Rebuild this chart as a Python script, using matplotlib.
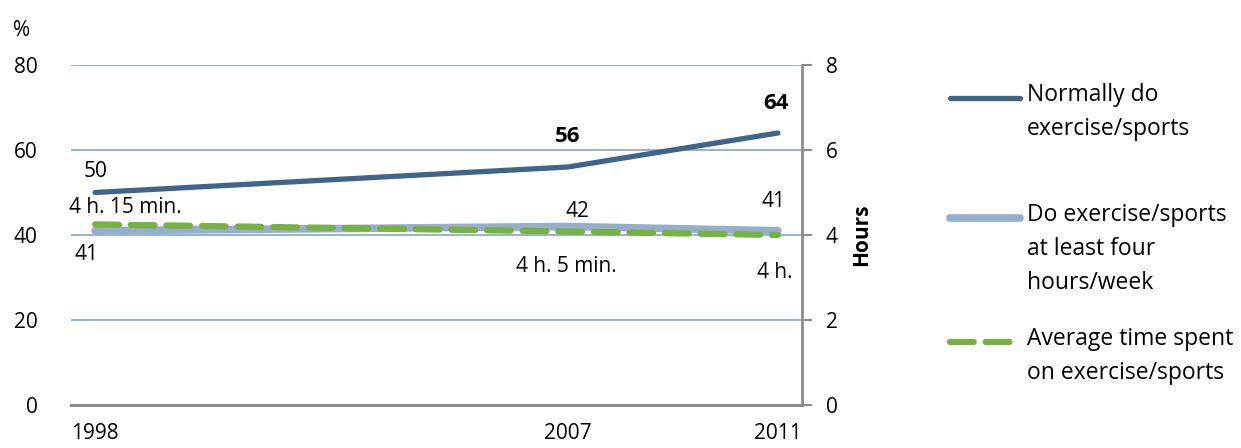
import matplotlib
matplotlib.use("Agg")
import matplotlib.pyplot as plt
from matplotlib.lines import Line2D

plt.rcParams['font.family'] = ['Open Sans', 'DejaVu Sans']

years = [1998, 2007, 2011]
normally = [50, 56, 64]
four_hours = [41, 42, 41]
avg_hours = [4.25, 4 + 5/60, 4.0]
avg_labels = ["4 h. 15 min.", "4 h. 5 min.", "4 h."]
left_ticks = [0, 20, 40, 60, 80]
right_ticks = [0, 2, 4, 6, 8]
legend_labels = ["Normally do\nexercise/sports",
                 "Do exercise/sports\nat least four\nhours/week",
                 "Average time spent\non exercise/sports"]

c_dark = "#41648a"
c_light = "#95aece"
c_green = "#77b140"
c_grid = "#9db3d0"
c_axis = "#8c8c8c"
fs = 15

fig = plt.figure(figsize=(12.41, 4.48), dpi=100)
ax = fig.add_axes([71/1241, 1 - 405/448, (802 - 71)/1241, (405 - 65)/448])
ax2 = ax.twinx()

ax.set_xlim(1997.54, 2011.46)
ax.set_ylim(0, 80)
ax2.set_ylim(0, 8)

for t in left_ticks[1:]:
    ax.axhline(t, color=c_grid, lw=1.5, zorder=0)

ax.plot(years, four_hours, color=c_light, lw=5.5, solid_capstyle='round', zorder=2)
ax.plot(years, normally, color=c_dark, lw=3.8, solid_capstyle='round', zorder=3)
ax2.plot(years, avg_hours, color=c_green, lw=4.5, dashes=(3.8, 1.9),
         dash_capstyle='round', zorder=4)

ax.set_yticks(left_ticks)
ax.set_yticklabels([str(t) for t in left_ticks], fontsize=fs)
ax.tick_params(axis='y', length=0, pad=24)
ax2.set_yticks(right_ticks)
ax2.set_yticklabels([str(t) for t in right_ticks], fontsize=fs)
ax2.tick_params(axis='y', length=7, width=1.5, color=c_axis, pad=10)
ax.set_xticks(years)
ax.set_xticklabels([str(y) for y in years], fontsize=fs)
ax.tick_params(axis='x', length=0, pad=13)

for a in (ax, ax2):
    for s in ('top', 'left'):
        a.spines[s].set_visible(False)
    a.spines['bottom'].set_color(c_axis)
    a.spines['bottom'].set_linewidth(2)
    a.spines['right'].set_color(c_axis)
    a.spines['right'].set_linewidth(2)
ax.spines['right'].set_visible(False)

ax2.set_ylabel("Hours", fontsize=fs, fontweight='bold', labelpad=10)
fig.text(22/1241, 1 - 30/448, "%", fontsize=fs, ha='center', va='center')

# data labels
def lab(a, text, xy, dx, dy, **kw):
    a.annotate(text, xy, xytext=(dx, dy), textcoords='offset points',
               ha='center', va='center', fontsize=kw.pop('size', fs), **kw)

lab(ax, str(normally[0]), (years[0], normally[0]), 0, 15)
lab(ax, str(normally[1]), (years[1], normally[1]), 0, 22, size=fs + 1, fontweight='bold')
lab(ax, str(normally[2]), (years[2], normally[2]), -1, 21, size=fs + 1, fontweight='bold')
lab(ax, str(four_hours[0]), (years[0], four_hours[0]), -6, -17)
lab(ax, str(four_hours[1]), (years[1], four_hours[1]), 7, 11)
lab(ax, str(four_hours[2]), (years[2], four_hours[2]), -3, 21)
lab(ax2, avg_labels[0], (years[0], avg_hours[0]), 22, 12)
lab(ax2, avg_labels[1], (years[1], avg_hours[1]), -1, -25)
lab(ax2, avg_labels[2], (years[2], avg_hours[2]), -2, -27)

# legend (drawn in figure coordinates)
leg_colors = [c_dark, c_light, c_green]
leg_lw = [3.8, 5.5, 4.5]
leg_dash = [None, None, (3.8, 1.9)]
leg_y = [98, 218, 342]
for text, col, lw, dsh, y in zip(legend_labels, leg_colors, leg_lw, leg_dash, leg_y):
    yf = 1 - y / 448
    ln = Line2D([950/1241, 1020/1241], [yf, yf], color=col, lw=lw,
                solid_capstyle='round', dash_capstyle='round',
                transform=fig.transFigure)
    if dsh:
        ln.set_dashes(dsh)
    fig.add_artist(ln)
    fig.text(1027/1241, yf + 15/448, text, fontsize=16.5, ha='left', va='top',
             linespacing=1.55)

fig.savefig("out.png", dpi=100)
